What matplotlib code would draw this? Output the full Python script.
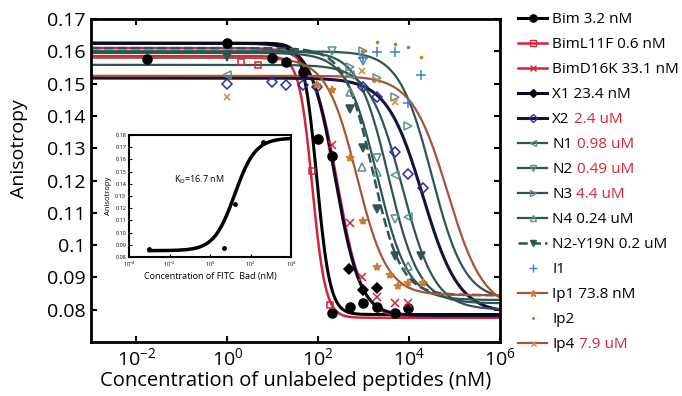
import numpy as np
import matplotlib.pyplot as plt
from matplotlib.lines import Line2D
from matplotlib.ticker import FuncFormatter, NullLocator

plt.rcParams['font.family'] = ['Open Sans', 'DejaVu Sans']
plt.rcParams['mathtext.fontset'] = 'custom'
plt.rcParams['mathtext.rm'] = 'Open Sans'

# ---- data (x = log10 concentration in nM) ----
bim_logc = [-1.77, 0.0, 0.98, 1.29, 1.66, 1.99, 2.30, 2.30, 2.69, 2.98, 3.29, 3.68, 3.97]
bim_y = [0.1576, 0.1626, 0.1580, 0.1567, 0.1536, 0.1330, 0.1276, 0.0790, 0.0808, 0.0821, 0.0808, 0.0790, 0.0805]

biml11f_logc = [0.30, 0.67, 1.86, 2.25]
biml11f_y = [0.1567, 0.1558, 0.1230, 0.0815]

bimd16k_logc = [2.30, 2.69, 2.96, 3.29, 3.70, 3.97]
bimd16k_y = [0.1310, 0.1068, 0.0901, 0.0839, 0.0821, 0.0821]

x1_logc = [2.67, 2.98, 3.29]
x1_y = [0.0926, 0.0861, 0.0867]

x2_logc = [0.0, 0.98, 1.29, 1.66, 1.97, 2.98, 3.29, 3.68, 3.97, 4.30]
x2_y = [0.1500, 0.1505, 0.1496, 0.1496, 0.1490, 0.1490, 0.1460, 0.1288, 0.1220, 0.1177]

n1_logc = [0.0, 2.69, 3.68, 3.97]
n1_y = [0.1527, 0.1527, 0.1217, 0.1087]

n2_logc = [2.30, 2.98, 3.29, 3.68]
n2_y = [0.1600, 0.1570, 0.1270, 0.1080]

n3_logc = [2.69, 2.98, 3.29, 3.68, 3.97]
n3_y = [0.1550, 0.1600, 0.1517, 0.1460, 0.1370]

n4_logc = [2.69, 2.96, 3.29, 3.97]
n4_y = [0.1474, 0.1242, 0.1226, 0.0935]

n2y19n_logc = [0.0, 2.69, 2.98, 3.29, 3.70, 4.27]
n2y19n_y = [0.1583, 0.1420, 0.1300, 0.1112, 0.0966, 0.0966]

i1_logc = [2.98, 3.29, 3.68, 3.97, 4.27]
i1_y = [0.1580, 0.1598, 0.1598, 0.1440, 0.1527]

ip1_logc = [1.97, 2.30, 2.69, 2.98, 3.29, 3.57, 3.75, 3.97, 4.30]
ip1_y = [0.1496, 0.1480, 0.1270, 0.1075, 0.0932, 0.0907, 0.0873, 0.0882, 0.0882]

ip2_logc = [2.96, 3.29, 3.68, 3.97, 4.27]
ip2_y = [0.1600, 0.1629, 0.1623, 0.1613, 0.1582]

ip4_logc = [0.0, 2.96, 3.29, 3.68]
ip4_y = [0.1459, 0.1540, 0.1510, 0.1443]

# fitted curves: top, bottom, log10 IC50, hill slope
fit_top = {'Bim': 0.1625, 'BimL11F': 0.1585, 'BimD16K': 0.1610, 'X1': 0.1625, 'X2': 0.1517,
           'N1': 0.1558, 'N2': 0.1600, 'N3': 0.1600, 'N4': 0.1595, 'N2-Y19N': 0.1610,
           'Ip1': 0.1580, 'Ip4': 0.1524}
fit_bottom = {'Bim': 0.0785, 'BimL11F': 0.0775, 'BimD16K': 0.0775, 'X1': 0.0782, 'X2': 0.0790,
              'N1': 0.0800, 'N2': 0.0820, 'N3': 0.0830, 'N4': 0.0830, 'N2-Y19N': 0.0845,
              'Ip1': 0.0845, 'Ip4': 0.0800}
fit_logic50 = {'Bim': 1.97, 'BimL11F': 1.87, 'BimD16K': 2.42, 'X1': 2.38, 'X2': 4.30,
               'N1': 3.85, 'N2': 3.55, 'N3': 4.50, 'N4': 3.30, 'N2-Y19N': 3.20,
               'Ip1': 2.85, 'Ip4': 4.85}
fit_hill = {'Bim': 3.0, 'BimL11F': 3.0, 'BimD16K': 1.6, 'X1': 1.6, 'X2': 1.1,
            'N1': 1.2, 'N2': 1.3, 'N3': 1.2, 'N4': 1.3, 'N2-Y19N': 1.4,
            'Ip1': 1.3, 'Ip4': 1.1}

names = ['Bim', 'BimL11F', 'BimD16K', 'X1', 'X2', 'N1', 'N2', 'N3', 'N4', 'N2-Y19N', 'I1', 'Ip1', 'Ip2', 'Ip4']
kd_text = ['3.2 nM', '0.6 nM', '33.1 nM', '23.4 nM', '2.4 uM', '0.98 uM', '0.49 uM', '4.4 uM',
           '0.24 uM', '0.2 uM', '', '73.8 nM', '', '7.9 uM']
kd_red = [False, False, False, False, True, True, True, True, False, False, False, False, False, True]

points = {'Bim': (bim_logc, bim_y), 'BimL11F': (biml11f_logc, biml11f_y),
          'BimD16K': (bimd16k_logc, bimd16k_y), 'X1': (x1_logc, x1_y), 'X2': (x2_logc, x2_y),
          'N1': (n1_logc, n1_y), 'N2': (n2_logc, n2_y), 'N3': (n3_logc, n3_y), 'N4': (n4_logc, n4_y),
          'N2-Y19N': (n2y19n_logc, n2y19n_y), 'I1': (i1_logc, i1_y), 'Ip1': (ip1_logc, ip1_y),
          'Ip2': (ip2_logc, ip2_y), 'Ip4': (ip4_logc, ip4_y)}

# inset: FITC-Bad titration
inset_logc = [-3.0, 0.69, 1.23, 2.62]
inset_y = [0.0866, 0.0877, 0.1234, 0.1743]
inset_top, inset_bottom, inset_logkd, inset_hill = 0.1775, 0.0852, 1.22, 0.85

RED = '#d4243a'
TEAL = '#2f5553'
TEAL_M = '#5f8f8a'
BROWN = '#a3553a'
style = {
    'Bim': dict(color='black', marker='o', mfc='black', mec='black', ms=6.5, lw=2.2, ls='-'),
    'BimL11F': dict(color=RED, marker='s', mfc='none', mec=RED, ms=5, lw=1.8, ls='-'),
    'BimD16K': dict(color=RED, marker='x', mfc=RED, mec=RED, ms=6, lw=1.8, ls='-'),
    'X1': dict(color='#0b0b25', marker='D', mfc='black', mec='black', ms=5.5, lw=2.2, ls='-'),
    'X2': dict(color='#14143e', marker='D', mfc='none', mec='#2a2aa8', ms=5.5, lw=2.2, ls='-'),
    'N1': dict(color=TEAL, marker='<', mfc='none', mec=TEAL_M, ms=6, lw=1.6, ls='-'),
    'N2': dict(color=TEAL, marker='v', mfc='none', mec=TEAL_M, ms=6, lw=1.6, ls='-'),
    'N3': dict(color=TEAL, marker='>', mfc='none', mec=TEAL_M, ms=6, lw=1.6, ls='-'),
    'N4': dict(color=TEAL, marker='^', mfc='none', mec=TEAL_M, ms=6, lw=1.6, ls='-'),
    'N2-Y19N': dict(color=TEAL, marker='v', mfc=TEAL, mec=TEAL, ms=6, lw=1.8, ls='--'),
    'I1': dict(color='#3a7fe0', marker='+', mfc='#3a7fe0', mec='#3a7fe0', ms=7, lw=0, ls='none'),
    'Ip1': dict(color=BROWN, marker='*', mfc='#d07a30', mec='#d07a30', ms=6, lw=1.6, ls='-'),
    'Ip2': dict(color='#c8782a', marker='.', mfc='#c8782a', mec='#c8782a', ms=3, lw=0, ls='none'),
    'Ip4': dict(color=BROWN, marker='x', mfc='#d8843a', mec='#d8843a', ms=4.5, lw=1.6, ls='-'),
}


def hill(logc, top, bottom, logic50, n):
    return bottom + (top - bottom) / (1 + 10 ** (n * (np.asarray(logc) - logic50)))


fig = plt.figure(figsize=(6.82, 3.96), dpi=100)
ax = fig.add_axes([91 / 682, 54 / 396, 409 / 682, 323 / 396])

grid = np.linspace(-3, 6, 600)
handles = []
labels = []
for name, kd, red in zip(names, kd_text, kd_red):
    s = style[name]
    if name in fit_top:
        ax.plot(10 ** grid, hill(grid, fit_top[name], fit_bottom[name], fit_logic50[name], fit_hill[name]),
                color=s['color'], lw=s['lw'], ls=s['ls'], zorder=2)
    lx, yy = points[name]
    ax.plot(10 ** np.array(lx), yy, ls='none', marker=s['marker'], ms=s['ms'],
            mfc=s['mfc'], mec=s['mec'], mew=1.1, zorder=3)
    handles.append(Line2D([], [], color=s['color'], lw=s['lw'] if s['ls'] != 'none' else 0,
                          ls=s['ls'], marker=s['marker'], ms=s['ms'] * 0.8,
                          mfc=s['mfc'], mec=s['mec']))
    if red or kd == '':
        labels.append(name)
    else:
        labels.append(name + ' ' + kd)

ax.set_xscale('log')
ax.set_xlim(1e-3, 1e6)
ax.set_ylim(0.07, 0.17)
ax.set_xticks([1e-2, 1e0, 1e2, 1e4, 1e6])
ax.xaxis.set_minor_locator(NullLocator())
ax.set_yticks(np.arange(0.08, 0.171, 0.01))
ax.yaxis.set_major_formatter(FuncFormatter(lambda v, p: '%g' % round(v, 2)))
ax.tick_params(direction='in', top=True, right=True, length=4, width=1.5, labelsize=14, pad=4)
for sp in ax.spines.values():
    sp.set_linewidth(2)
ax.set_xlabel('Concentration of unlabeled peptides (nM)', fontsize=14.5, labelpad=1)
ax.set_ylabel('Anisotropy', fontsize=14)
ax.yaxis.set_label_coords(-0.153, 0.6)

leg = fig.legend(handles, labels, loc='upper left', bbox_to_anchor=(518 / 682, 1 - 12 / 396),
                 frameon=False, fontsize=11, handlelength=1.9, handletextpad=0.35,
                 labelspacing=0.655, borderpad=0, borderaxespad=0)

# inset
ins = fig.add_axes([129 / 682, (396 - 257) / 396, 162 / 682, 122 / 396])
ig = np.linspace(-3, 4, 300)
ins.plot(10 ** ig, hill(ig, inset_bottom, inset_top, inset_logkd, inset_hill), color='black', lw=2.5)
ins.plot(10 ** np.array(inset_logc), inset_y, 'o', color='black', ms=2.5)
ins.set_xscale('log')
ins.set_xlim(1e-4, 1e4)
ins.set_ylim(0.08, 0.18)
ins.set_xticks([1e-4, 1e-2, 1e0, 1e2, 1e4])
ins.xaxis.set_minor_locator(NullLocator())
ins.set_yticks(np.arange(0.08, 0.181, 0.01))
ins.yaxis.set_major_formatter(FuncFormatter(lambda v, p: '%.2f' % v))
ins.tick_params(direction='in', labelsize=4, length=2, width=0.8, pad=2)
for sp in ins.spines.values():
    sp.set_linewidth(1.5)
ins.set_xlabel('Concentration of FITC  Bad (nM)', fontsize=6.5, labelpad=2)
ins.set_ylabel('Anisotropy', fontsize=5.5, labelpad=2)
ins.text(10 ** -1.8, 0.143, 'K$_\\mathregular{D}$=16.7 nM', fontsize=6.5, va='center')

# red Kd values after the legend names
fig.canvas.draw()
renderer = fig.canvas.get_renderer()
W, H = fig.bbox.width, fig.bbox.height
for txt, kd, red in zip(leg.get_texts(), kd_text, kd_red):
    if red:
        bb = txt.get_window_extent(renderer)
        fig.text((bb.x1 + 4) / W, bb.y0 / H, kd, color=RED, fontsize=11, va='bottom', ha='left')

fig.savefig('out.png', dpi=100)
